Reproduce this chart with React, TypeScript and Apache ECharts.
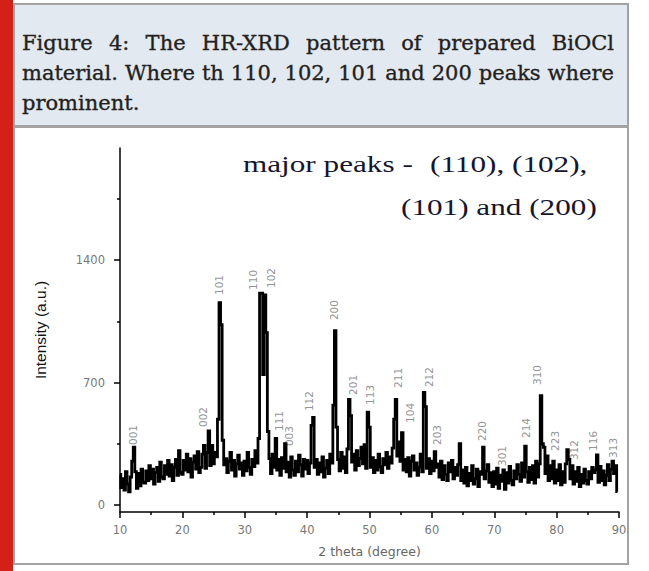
import React, { useEffect, useRef } from "react";
import * as echarts from "echarts";

// 2θ grid of the scan (degrees)
const thetaStart = 10;
const thetaStep = 0.25;

const intensity: number[] = [
  175, 100, 150, 85, // 10
  190, 120, 75, 160, // 11
  250, 330, 190, 95, // 12
  180, 110, 205, 130, // 13
  125, 195, 140, 225, // 14
  150, 205, 120, 185, // 15
  215, 135, 245, 160, // 16
  150, 225, 175, 255, // 17
  165, 230, 140, 215, // 18
  260, 170, 310, 185, // 19
  175, 255, 200, 290, // 20
  190, 265, 160, 245, // 21
  280, 205, 305, 185, // 22
  215, 290, 340, 210, // 23
  300, 423, 225, 340, // 24
  235, 300, 275, 490, // 25
  1156, 1030, 370, 230, // 26
  265, 185, 250, 300, // 27
  200, 255, 165, 235, // 28
  285, 205, 240, 170, // 29
  250, 195, 300, 215, // 30
  175, 260, 220, 310, // 31
  240, 380, 1210, 1210, // 32
  745, 1200, 985, 420, // 33
  265, 180, 290, 215, // 34
  381, 200, 260, 170, // 35
  270, 210, 350, 190, // 36
  245, 160, 275, 200, // 37
  170, 250, 190, 285, // 38
  230, 165, 260, 205, // 39
  255, 180, 240, 455, // 40
  500, 215, 260, 175, // 41
  240, 190, 275, 160, // 42
  210, 255, 180, 290, // 43
  240, 570, 996, 445, // 44
  260, 195, 300, 210, // 45
  275, 185, 320, 604, // 46
  510, 245, 290, 200, // 47
  310, 225, 265, 330, // 48
  235, 345, 210, 530, // 49
  445, 215, 270, 185, // 50
  255, 200, 290, 220, // 51
  185, 265, 230, 300, // 52
  210, 275, 240, 325, // 53
  490, 604, 280, 360, // 54
  250, 413, 200, 260, // 55
  190, 270, 165, 250, // 56
  280, 200, 240, 170, // 57
  215, 290, 190, 644, // 58
  562, 210, 265, 180, // 59
  250, 195, 305, 215, // 60
  235, 160, 250, 145, // 61
  225, 175, 140, 240, // 62
  190, 255, 150, 215, // 63
  170, 230, 350, 140, // 64
  200, 125, 215, 110, // 65
  180, 140, 225, 120, // 66
  150, 205, 105, 190, // 67
  175, 330, 150, 195, // 68
  230, 130, 185, 105, // 69
  190, 120, 210, 95, // 70
  170, 135, 200, 90, // 71
  185, 125, 220, 140, // 72
  115, 195, 150, 230, // 73
  175, 135, 240, 160, // 74
  337, 190, 130, 215, // 75
  145, 225, 125, 250, // 76
  160, 235, 625, 350, // 77
  330, 180, 280, 140, // 78
  225, 150, 250, 125, // 79
  200, 140, 230, 115, // 80
  190, 130, 235, 316, // 81
  260, 150, 225, 120, // 82
  190, 135, 215, 105, // 83
  175, 125, 205, 140, // 84
  120, 190, 150, 215, // 85
  185, 200, 286, 130, // 86
  220, 140, 195, 115, // 87
  170, 230, 140, 205, // 88
  250, 180, 225, 76, // 89
];

// Miller-index annotations: text, 2θ, and intensity level of the label centre
const hklLabels = ["001", "002", "101", "110", "102", "111", "003", "112", "200", "201", "113", "211", "104", "212", "203", "220", "301", "214", "310", "223", "312", "116", "313"];
const hklTheta = [12.13, 23.35, 25.91, 31.36, 34.15, 35.53, 37.08, 40.34, 44.3, 47.39, 50.06, 54.6, 56.47, 59.52, 60.85, 67.96, 71.27, 75.06, 76.87, 79.71, 82.76, 85.85, 89.05];
const hklLevel = [400, 503, 1257, 1286, 1297, 480, 394, 594, 1114, 686, 629, 726, 526, 731, 400, 423, 280, 440, 743, 366, 314, 366, 326];

const yTickValues = [0, 700, 1400];
const yMinorTickValues = [350, 1050, 1750];

const captionLines = [
  "Figure 4: The HR-XRD pattern of prepared BiOCl",
  "material. Where th 110, 102, 101 and 200 peaks where",
  "prominent.",
];
const noteLine1a = "major peaks -";
const noteLine1b = "(110), (102),";
const noteLine2 = "(101) and (200)";

const CAPTION_FONT_SIZE = 21;
const CAPTION_FONT = '"DejaVu Serif"';

function justify(line: string, x0: number, x1: number, last: boolean) {
  const canvas = document.createElement("canvas");
  const ctx = canvas.getContext("2d")!;
  ctx.font = `${CAPTION_FONT_SIZE}px ${CAPTION_FONT}`;
  const words = line.split(" ");
  const widths = words.map((w) => ctx.measureText(w).width);
  const total = widths.reduce((a, b) => a + b, 0);
  const space = ctx.measureText(" ").width;
  const gap = last || words.length < 2 ? space : (x1 - x0 - total) / (words.length - 1);
  let x = x0;
  return words.map((w, i) => {
    const item = { word: w, x };
    x += widths[i] + gap;
    return item;
  });
}

export default function App() {
  const ref = useRef<HTMLDivElement>(null);
  useEffect(() => {
    document.body.style.margin = "0";
    const chart = echarts.init(ref.current!, undefined, { renderer: "svg" });

    const lineData = intensity.map((v, i) => [thetaStart + i * thetaStep, v]);
    const labelData = hklLabels.map((t, i) => ({ name: t, value: [hklTheta[i], hklLevel[i]] }));

    const captionY = [43, 73, 103];
    const captionEls: any[] = [];
    captionLines.forEach((line, li) => {
      justify(line, 22, 614, li === captionLines.length - 1).forEach((w) => {
        captionEls.push({
          type: "text",
          x: w.x,
          y: captionY[li],
          z: 10,
          style: {
            text: w.word,
            fontSize: CAPTION_FONT_SIZE,
            fontFamily: CAPTION_FONT,
            fill: "#231f20",
            stroke: "#231f20",
            lineWidth: 0.35,
            textAlign: "left",
            textVerticalAlign: "middle",
          },
        });
      });
    });

    const noteStyle = {
      fontSize: 24,
      fontFamily: '"Liberation Serif", "Times New Roman", serif',
      fill: "#15152e",
      textAlign: "left",
      textVerticalAlign: "middle",
    };

    const option: any = {
      animation: false,
      backgroundColor: "#ffffff",
      grid: { left: 120, right: 30, top: 148, bottom: 59 },
      xAxis: {
        type: "value",
        min: 10,
        max: 90,
        interval: 10,
        name: "2 theta (degree)",
        nameLocation: "middle",
        nameGap: 33,
        nameTextStyle: { fontFamily: '"DejaVu Sans"', fontSize: 12.5, color: "#666" },
        axisLine: { show: true, onZero: false, lineStyle: { color: "#000", width: 1.5 } },
        axisTick: { show: true, length: 6, lineStyle: { color: "#000", width: 1.5 } },
        minorTick: { show: true, splitNumber: 2, length: 3, lineStyle: { color: "#000", width: 1.5 } },
        axisLabel: { margin: 12, fontFamily: '"DejaVu Sans"', fontSize: 11.5, color: "#777" },
        splitLine: { show: false },
        minorSplitLine: { show: false },
      },
      yAxis: [
        {
          type: "value",
          min: -40,
          max: 2040,
          position: "left",
          name: "Intensity (a.u.)",
          nameLocation: "middle",
          nameGap: 72,
          nameTextStyle: { fontFamily: '"Liberation Sans", Arial, sans-serif', fontSize: 15.5, color: "#111" },
          axisLine: { show: true, onZero: false, lineStyle: { color: "#000", width: 1.5 } },
          axisTick: { show: true, length: 6, customValues: yTickValues, lineStyle: { color: "#000", width: 1.5 } },
          axisLabel: {
            customValues: yTickValues,
            margin: 15,
            fontFamily: '"DejaVu Sans"',
            fontSize: 11.5,
            color: "#777",
            formatter: (v: number) => String(v),
          },
          splitLine: { show: false },
        },
        {
          type: "value",
          min: -40,
          max: 2040,
          position: "left",
          axisLine: { show: false },
          axisTick: { show: true, length: 3, customValues: yMinorTickValues, lineStyle: { color: "#000", width: 1.5 } },
          axisLabel: { show: false },
          splitLine: { show: false },
        },
      ],
      series: [
        {
          type: "line",
          data: lineData,
          step: "middle",
          symbol: "none",
          showSymbol: false,
          silent: true,
          lineStyle: { color: "#000", width: 2.8, join: "miter" },
          xAxisIndex: 0,
          yAxisIndex: 0,
        },
        {
          type: "scatter",
          data: labelData,
          symbolSize: 1,
          itemStyle: { color: "transparent" },
          silent: true,
          xAxisIndex: 0,
          yAxisIndex: 0,
          label: {
            show: true,
            formatter: (p: any) => p.name,
            rotate: 90,
            position: "inside",
            fontFamily: '"DejaVu Sans"',
            fontSize: 10.5,
            color: "#777",
          },
        },
      ],
      graphic: [
        { type: "rect", z: -10, shape: { x: 0, y: 0, width: 13, height: 571 }, style: { fill: "#d3211a" } },
        { type: "rect", z: -10, shape: { x: 14, y: 4, width: 614, height: 122 }, style: { fill: "#e3e9f0", stroke: "#a3a3a3", lineWidth: 2 } },
        { type: "rect", z: -10, shape: { x: 14, y: 127, width: 614, height: 437 }, style: { fill: "#ffffff", stroke: "#a3a3a3", lineWidth: 2 } },
        ...captionEls,
        { type: "text", x: 243, y: 164, scaleX: 1.3, z: 10, style: { ...noteStyle, text: noteLine1a } },
        { type: "text", x: 430, y: 164, scaleX: 1.3, z: 10, style: { ...noteStyle, text: noteLine1b } },
        { type: "text", x: 401, y: 207, scaleX: 1.3, z: 10, style: { ...noteStyle, text: noteLine2 } },
      ],
    };
    chart.setOption(option);
    return () => chart.dispose();
  }, []);
  return <div ref={ref} style={{ width: 649, height: 571 }} />;
}
